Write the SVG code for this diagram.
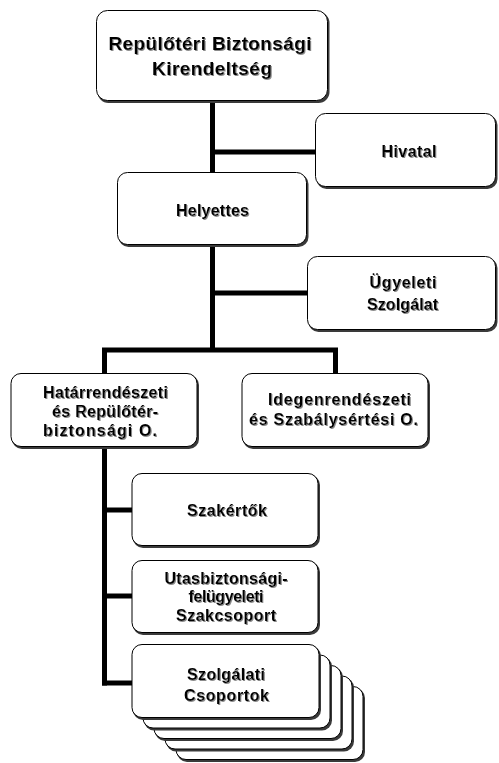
<svg xmlns="http://www.w3.org/2000/svg" width="499" height="763" viewBox="0 0 499 763">
<defs>
<filter id="ts" x="-5%" y="-20%" width="110%" height="140%">
<feDropShadow dx="1" dy="1" stdDeviation="0" flood-color="#8a8a8a" flood-opacity="1"/>
</filter>
</defs>
<style>
.box{fill:#fff;stroke:#000;stroke-width:1}
.sh{fill:#3a3a3a}
.t{font-family:"Liberation Sans",Arial,sans-serif;font-weight:bold;font-size:16px;fill:#000;text-anchor:middle;filter:url(#ts)}
.big{font-size:19px}
.c{stroke:#000;stroke-width:5;fill:none}
</style>
<rect width="499" height="763" fill="#fff"/>
<g id="connectors">
<line class="c" x1="212.5" y1="102" x2="212.5" y2="350"/>
<line class="c" x1="212.5" y1="152" x2="315" y2="152"/>
<line class="c" x1="212.5" y1="293" x2="307" y2="293"/>
<line class="c" x1="102" y1="350" x2="338" y2="350"/>
<line class="c" x1="104.5" y1="350" x2="104.5" y2="373"/>
<line class="c" x1="335.5" y1="350" x2="335.5" y2="373"/>
<line class="c" x1="104.5" y1="447" x2="104.5" y2="685.5"/>
<line class="c" x1="102" y1="510" x2="132" y2="510"/>
<line class="c" x1="102" y1="596" x2="132" y2="596"/>
<line class="c" x1="102" y1="683" x2="132" y2="683"/>
</g>
<g id="node-kirendeltseg">
<rect class="sh" x="97.5" y="12" width="232" height="91" rx="11"/>
<rect class="box" x="96.5" y="10.5" width="231" height="90" rx="11"/>
<text class="t big" x="210" y="50" textLength="203" lengthAdjust="spacing">Repülőtéri Biztonsági</text>
<text class="t big" x="212" y="75" textLength="120" lengthAdjust="spacing">Kirendeltség</text>
</g>
<g id="node-hivatal">
<rect class="sh" x="316.5" y="115" width="181" height="74" rx="10"/>
<rect class="box" x="315.5" y="113.5" width="180" height="73" rx="10"/>
<text class="t" x="409" y="157" textLength="55" lengthAdjust="spacing">Hivatal</text>
</g>
<g id="node-helyettes">
<rect class="sh" x="118.5" y="174" width="190" height="73" rx="10"/>
<rect class="box" x="117.5" y="172.5" width="189" height="72" rx="10"/>
<text class="t" x="212.5" y="216" textLength="73" lengthAdjust="spacing">Helyettes</text>
</g>
<g id="node-ugyeleti">
<rect class="sh" x="308.5" y="258" width="189" height="74" rx="10"/>
<rect class="box" x="307.5" y="256.5" width="188" height="73" rx="10"/>
<text class="t" x="403" y="288" textLength="67" lengthAdjust="spacing">Ügyeleti</text>
<text class="t" x="402.5" y="310" textLength="71" lengthAdjust="spacing">Szolgálat</text>
</g>
<g id="node-hatarrendeszeti">
<rect class="sh" x="12" y="375" width="187" height="74" rx="10"/>
<rect class="box" x="11" y="373.5" width="186" height="73" rx="10"/>
<text class="t" x="105.5" y="398" textLength="125" lengthAdjust="spacing">Határrendészeti</text>
<text class="t" x="105" y="417" textLength="106" lengthAdjust="spacing">és Repülőtér-</text>
<text class="t" x="100" y="436" textLength="114" lengthAdjust="spacing">biztonsági O.</text>
</g>
<g id="node-idegenrendeszeti">
<rect class="sh" x="243" y="375" width="187" height="74" rx="10"/>
<rect class="box" x="242" y="373.5" width="186" height="73" rx="10"/>
<text class="t" x="339.5" y="405" textLength="143" lengthAdjust="spacing">Idegenrendészeti</text>
<text class="t" x="333.5" y="425" textLength="169" lengthAdjust="spacing">és Szabálysértési O.</text>
</g>
<g id="node-szakertok">
<rect class="sh" x="133" y="475" width="187" height="73" rx="10"/>
<rect class="box" x="132" y="473.5" width="186" height="72" rx="10"/>
<text class="t" x="227" y="516" textLength="80" lengthAdjust="spacing">Szakértők</text>
</g>
<g id="node-utasbiztonsagi">
<rect class="sh" x="133" y="562" width="187" height="73" rx="10"/>
<rect class="box" x="132" y="560.5" width="186" height="72" rx="10"/>
<text class="t" x="226" y="584" textLength="123" lengthAdjust="spacing">Utasbiztonsági-</text>
<text class="t" x="226" y="602" textLength="75" lengthAdjust="spacing">felügyeleti</text>
<text class="t" x="226" y="621" textLength="100" lengthAdjust="spacing">Szakcsoport</text>
</g>
<g id="node-szolgalati">
<rect class="sh" x="177" y="688" width="188" height="74" rx="10"/>
<rect class="box" x="176" y="686.5" width="187" height="73" rx="10"/>
<rect class="sh" x="166" y="677.5" width="188" height="74" rx="10"/>
<rect class="box" x="165" y="676" width="187" height="73" rx="10"/>
<rect class="sh" x="155" y="667" width="188" height="74" rx="10"/>
<rect class="box" x="154" y="665.5" width="187" height="73" rx="10"/>
<rect class="sh" x="144" y="656.5" width="188" height="74" rx="10"/>
<rect class="box" x="143" y="655" width="187" height="73" rx="10"/>
<rect class="sh" x="133" y="646" width="188" height="74" rx="10"/>
<rect class="box" x="132" y="644.5" width="187" height="73" rx="10"/>
<text class="t" x="226" y="680" textLength="78" lengthAdjust="spacing">Szolgálati</text>
<text class="t" x="226.5" y="701" textLength="85" lengthAdjust="spacing">Csoportok</text>
</g>
</svg>
